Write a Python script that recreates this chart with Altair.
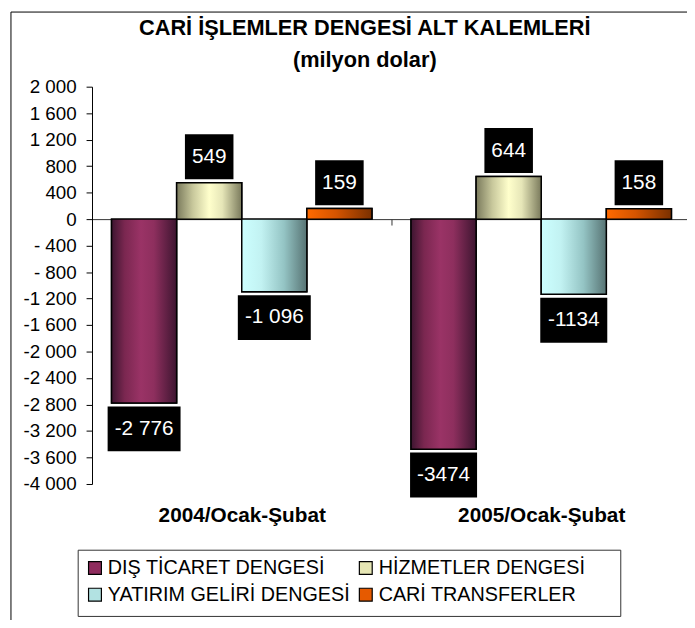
import altair as alt
import pandas as pd

# ---- data ----
categories = ["2004/Ocak-Şubat", "2005/Ocak-Şubat"]
series = ["DIŞ TİCARET DENGESİ", "HİZMETLER DENGESİ", "YATIRIM GELİRİ DENGESİ", "CARİ TRANSFERLER"]
values_2004 = [-2776, 549, -1096, 159]
values_2005 = [-3474, 644, -1134, 158]
labels_2004 = ["-2 776", "549", "-1 096", "159"]
labels_2005 = ["-3474", "644", "-1134", "158"]
y_ticks = list(range(-4000, 2001, 400))
title_lines = ["CARİ İŞLEMLER DENGESİ ALT KALEMLERİ", "(milyon dolar)"]

rows = []
for cat, vals, labs in [(categories[0], values_2004, labels_2004), (categories[1], values_2005, labels_2005)]:
    for s, v, l in zip(series, vals, labs):
        rows.append({"category": cat, "series": s, "value": v, "label": l})
df = pd.DataFrame(rows)

# ---- styles ----
FONT = "Liberation Sans"
legend_colors = ["#8f2c5e", "#e6e6b4", "#b2e2e2", "#e65a00"]
gradients = {
    series[0]: [("#3d1530", 0), ("#7a2750", 0.2), ("#9a3366", 0.45), ("#8e2f5e", 0.65), ("#3d1530", 1)],
    series[1]: [("#7a7a5c", 0), ("#c8c89c", 0.25), ("#ffffcc", 0.5), ("#e6e6b8", 0.7), ("#7a7a5c", 1)],
    series[2]: [("#ccffff", 0), ("#c2f2f2", 0.3), ("#94c4c4", 0.65), ("#577373", 1)],
    series[3]: [("#ff6a00", 0), ("#d45400", 0.45), ("#7a3000", 1)],
}

W, H = 602, 402

x_enc = alt.X("category:N", sort=categories,
              scale=alt.Scale(domain=categories, range=[0, 606], paddingInner=0, paddingOuter=0),
              axis=alt.Axis(title=None, orient="bottom", offset=-268, domain=True, domainColor="#333333",
                            domainWidth=1, ticks=True, tickBand="extent", tickSize=6, tickColor="#333333",
                            labelPadding=283, labelFont=FONT, labelFontSize=21, labelFontWeight="bold",
                            labelColor="black", labelAngle=0, grid=False))
xo_enc = alt.XOffset("series:N", sort=series,
                     scale=alt.Scale(domain=series, paddingOuter=0.3, paddingInner=0))
y_enc = alt.Y("value:Q",
              scale=alt.Scale(domain=[-4000, 2000], nice=False, zero=False),
              axis=alt.Axis(title=None, values=y_ticks, grid=False, domainColor="black", tickColor="black",
                            tickSize=6, labelPadding=10, labelFont=FONT, labelFontSize=19, labelColor="black",
                            labelExpr="datum.value == 0 ? '0' : (datum.value < 0 ? (datum.value > -1000 ? '- ' : '-') : '') + replace(format(abs(datum.value), ','), ',', ' ')"))

base = alt.Chart(df)

bars = base.mark_bar(stroke="black", strokeWidth=1.5).encode(
    x=x_enc, xOffset=xo_enc, y=y_enc,
    color=alt.Color("series:N", sort=series,
                    scale=alt.Scale(domain=series, range=legend_colors),
                    legend=alt.Legend(orient="none", legendX=-7, legendY=477, direction="horizontal",
                                      columns=2, title=None, labelFont=FONT, labelFontSize=20,
                                      labelColor="black", symbolType="square", symbolSize=169,
                                      symbolStrokeColor="black", symbolStrokeWidth=1.2,
                                      rowPadding=7, columnPadding=6, labelOffset=3, padding=0,
                                      labelLimit=400)),
)

overlays = []
for s in series:
    grad = alt.Gradient(gradient="linear", x1=0, x2=1, y1=0, y2=0,
                        stops=[alt.GradientStop(color=c, offset=o) for c, o in gradients[s]])
    overlays.append(
        base.mark_bar(fill=grad, stroke="black", strokeWidth=1.5)
        .encode(x=x_enc, xOffset=xo_enc, y=y_enc)
        .transform_filter(alt.datum.series == s)
    )

boxw_expr = ("14 + 11.7*(length(datum.label) - (indexof(datum.label,'-')>=0 ? 1 : 0) - "
             "(indexof(datum.label,' ')>=0 ? 1 : 0)) + (indexof(datum.label,'-')>=0 ? 7 : 0) + "
             "(indexof(datum.label,' ')>=0 ? 6 : 0)")

box_pos = base.transform_filter(alt.datum.value > 0).transform_calculate(boxw=boxw_expr).mark_bar(
    color="black", yOffset=-3.5, y2Offset=-49).encode(
    x=x_enc, xOffset=xo_enc, y=y_enc, y2=alt.Y2("value:Q"),
    size=alt.Size("boxw:Q", scale=None, legend=None))
box_neg = base.transform_filter(alt.datum.value < 0).transform_calculate(boxw=boxw_expr).mark_bar(
    color="black", yOffset=3.5, y2Offset=49).encode(
    x=x_enc, xOffset=xo_enc, y=y_enc, y2=alt.Y2("value:Q"),
    size=alt.Size("boxw:Q", scale=None, legend=None))

txt_pos = base.transform_filter(alt.datum.value > 0).mark_text(
    color="white", font=FONT, fontSize=21, baseline="middle", dy=-26).encode(
    x=x_enc, xOffset=xo_enc, y=y_enc, text="label:N")
txt_neg = base.transform_filter(alt.datum.value < 0).mark_text(
    color="white", font=FONT, fontSize=21, baseline="middle", dy=26).encode(
    x=x_enc, xOffset=xo_enc, y=y_enc, text="label:N")

frame_df = pd.DataFrame({"k": [0]})
frame = alt.Chart(frame_df).mark_rect(fill=None, stroke="black", strokeWidth=1).encode(
    x=alt.value(-82), x2=alt.value(640), y=alt.value(-75.5), y2=alt.value(543))
legend_box = alt.Chart(frame_df).mark_rect(fill=None, stroke="#333333", strokeWidth=1).encode(
    x=alt.value(-14), x2=alt.value(535), y=alt.value(469), y2=alt.value(536))

title1 = alt.Chart(pd.DataFrame({"t": [title_lines[0]]})).mark_text(
    font=FONT, fontSize=22, fontWeight="bold", color="black", align="center", baseline="middle").encode(
    text="t:N", x=alt.value(276), y=alt.value(-59))
title2 = alt.Chart(pd.DataFrame({"t": [title_lines[1]]})).mark_text(
    font=FONT, fontSize=22, fontWeight="bold", color="black", align="center", baseline="middle").encode(
    text="t:N", x=alt.value(276), y=alt.value(-27))

chart = alt.layer(bars, *overlays, box_pos, box_neg, txt_pos, txt_neg, legend_box, frame,
                  title1, title2).properties(
    width=W, height=H,
    padding={"left": 85, "top": 76, "right": 0, "bottom": 134},
    autosize=alt.AutoSizeParams(type="none"),
    background="white",
).configure_view(stroke=None)

chart.save("out.html", embed_options={"renderer": "svg", "actions": False})
